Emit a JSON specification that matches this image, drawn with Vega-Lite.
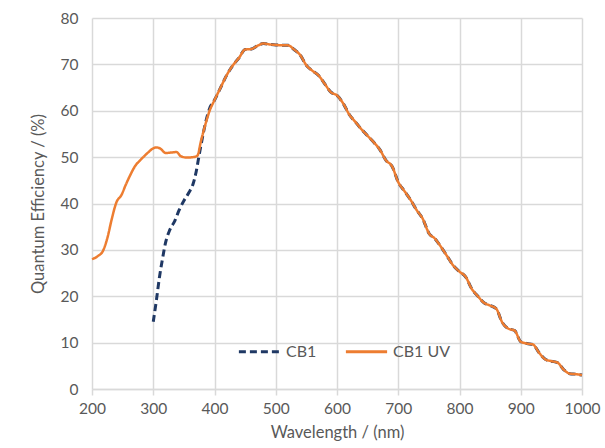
{
  "$schema": "https://vega.github.io/schema/vega-lite/v6.json",
  "width": 490,
  "height": 371,
  "autosize": "none",
  "padding": {"left": 92, "top": 18, "right": 23, "bottom": 59},
  "background": "white",
  "config": {
    "view": {"stroke": null},
    "font": "Lato",
    "axis": {"labelFont": "Lato", "titleFont": "Lato", "labelColor": "#595959", "titleColor": "#595959", "labelFontSize": 15.5, "titleFontSize": 16.5, "titleFontWeight": "normal", "gridColor": "#d9d9d9", "gridWidth": 1.5},
    "legend": {"labelFont": "Lato", "labelFontSize": 16, "labelColor": "#595959"}
  },
  "datasets": {
    "uv": [
      {"w":200,"q":28.0},{"w":210,"q":28.7},{"w":218,"q":29.8},{"w":225,"q":32.5},{"w":232,"q":36.5},{"w":240,"q":40.3},{"w":248,"q":41.8},{"w":255,"q":44.0},{"w":262,"q":46.0},{"w":270,"q":48.0},{"w":280,"q":49.5},{"w":290,"q":50.8},{"w":300,"q":51.9},{"w":305,"q":52.1},{"w":312,"q":51.8},{"w":320,"q":50.9},{"w":330,"q":51.0},{"w":338,"q":51.1},{"w":345,"q":50.2},{"w":355,"q":49.9},{"w":365,"q":50.0},{"w":372,"q":50.3},{"w":378,"q":53.5},{"w":385,"q":57.0},{"w":392,"q":60.0},
      {"w":400,"q":62.3},{"w":410,"q":65.0},{"w":420,"q":67.7},{"w":430,"q":69.8},{"w":440,"q":71.4},{"w":450,"q":73.2},{"w":460,"q":73.3},{"w":470,"q":74.0},{"w":480,"q":74.5},{"w":490,"q":74.3},{"w":500,"q":74.2},{"w":510,"q":74.1},{"w":520,"q":74.1},{"w":530,"q":73.2},{"w":540,"q":72.0},{"w":550,"q":69.8},{"w":560,"q":68.6},{"w":570,"q":67.6},{"w":580,"q":65.8},{"w":590,"q":64.0},{"w":600,"q":63.3},{"w":610,"q":61.6},{"w":620,"q":59.2},{"w":630,"q":57.6},{"w":640,"q":56.0},{"w":650,"q":54.6},{"w":660,"q":53.2},{"w":670,"q":51.6},{"w":680,"q":49.3},{"w":690,"q":48.0},{"w":700,"q":44.6},{"w":710,"q":42.7},{"w":720,"q":40.8},{"w":730,"q":38.6},{"w":740,"q":36.7},{"w":750,"q":33.6},{"w":760,"q":32.4},{"w":770,"q":30.6},{"w":780,"q":28.6},{"w":790,"q":26.6},{"w":800,"q":25.3},{"w":810,"q":24.2},{"w":820,"q":21.6},{"w":830,"q":20.0},{"w":840,"q":18.6},{"w":850,"q":18.0},{"w":860,"q":17.3},{"w":870,"q":14.3},{"w":880,"q":13.0},{"w":890,"q":12.6},{"w":900,"q":10.2},{"w":910,"q":9.8},{"w":920,"q":9.6},{"w":930,"q":7.8},{"w":940,"q":6.4},{"w":950,"q":6.0},{"w":960,"q":5.7},{"w":970,"q":4.2},{"w":980,"q":3.3},{"w":990,"q":3.2},{"w":1000,"q":3.0}
    ],
    "cb1": [
      {"w":300,"q":14.5},{"w":305,"q":19.0},{"w":310,"q":24.0},{"w":315,"q":28.0},{"w":320,"q":31.5},{"w":327,"q":34.3},{"w":335,"q":36.2},{"w":342,"q":38.5},{"w":350,"q":40.6},{"w":358,"q":42.3},{"w":365,"q":44.2},{"w":370,"q":46.8},{"w":375,"q":50.5},{"w":380,"q":54.0},{"w":385,"q":57.2},{"w":392,"q":60.5},
      {"w":400,"q":62.3},{"w":410,"q":65.0},{"w":420,"q":67.7},{"w":430,"q":69.8},{"w":440,"q":71.4},{"w":450,"q":73.2},{"w":460,"q":73.3},{"w":470,"q":74.0},{"w":480,"q":74.5},{"w":490,"q":74.3},{"w":500,"q":74.2},{"w":510,"q":74.1},{"w":520,"q":74.1},{"w":530,"q":73.2},{"w":540,"q":72.0},{"w":550,"q":69.8},{"w":560,"q":68.6},{"w":570,"q":67.6},{"w":580,"q":65.8},{"w":590,"q":64.0},{"w":600,"q":63.3},{"w":610,"q":61.6},{"w":620,"q":59.2},{"w":630,"q":57.6},{"w":640,"q":56.0},{"w":650,"q":54.6},{"w":660,"q":53.2},{"w":670,"q":51.6},{"w":680,"q":49.3},{"w":690,"q":48.0},{"w":700,"q":44.6},{"w":710,"q":42.7},{"w":720,"q":40.8},{"w":730,"q":38.6},{"w":740,"q":36.7},{"w":750,"q":33.6},{"w":760,"q":32.4},{"w":770,"q":30.6},{"w":780,"q":28.6},{"w":790,"q":26.6},{"w":800,"q":25.3},{"w":810,"q":24.2},{"w":820,"q":21.6},{"w":830,"q":20.0},{"w":840,"q":18.6},{"w":850,"q":18.0},{"w":860,"q":17.3},{"w":870,"q":14.3},{"w":880,"q":13.0},{"w":890,"q":12.6},{"w":900,"q":10.2},{"w":910,"q":9.8},{"w":920,"q":9.6},{"w":930,"q":7.8},{"w":940,"q":6.4},{"w":950,"q":6.0},{"w":960,"q":5.7},{"w":970,"q":4.2},{"w":980,"q":3.3},{"w":990,"q":3.2},{"w":1000,"q":3.0}
    ]
  },
  "layer": [
    {
      "data": {"name": "cb1"},
      "transform": [{"calculate": "'CB1'", "as": "s"}],
      "mark": {"type": "line", "strokeWidth": 3, "interpolate": "monotone"},
      "encoding": {
        "x": {"field": "w", "type": "quantitative", "scale": {"domain": [200, 1000], "nice": false},
          "axis": {"title": "Wavelength / (nm)", "format": "d", "values": [200,225,250,275,300,325,350,375,400,425,450,475,500,525,550,575,600,625,650,675,700,725,750,775,800,825,850,875,900,925,950,975,1000],
            "labelExpr": "datum.value % 100 === 0 ? datum.label : ''",
            "gridOpacity": {"condition": {"test": "datum.value % 100 === 0", "value": 1}, "value": 0},
            "tickSize": {"condition": {"test": "datum.value % 100 === 0", "value": 6}, "value": 4},
            "tickColor": "#d9d9d9", "tickWidth": 1.5, "domainColor": "#d9d9d9", "domainWidth": 1.5, "labelPadding": 6, "titlePadding": 8, "labelFlush": false, "labelOverlap": false}},
        "y": {"field": "q", "type": "quantitative", "scale": {"domain": [0, 80], "nice": false},
          "axis": {"title": "Quantum Efficiency / (%)", "values": [0,10,20,30,40,50,60,70,80], "ticks": false, "domain": false, "labelPadding": 14, "titlePadding": 14}},
        "color": {"field": "s", "type": "nominal", "scale": {"domain": ["CB1", "CB1 UV"], "range": ["#1F3864", "#ED7D31"]},
          "legend": {"title": null, "orient": "none", "legendX": 145, "legendY": 311, "direction": "horizontal", "symbolType": "stroke", "symbolSize": 1700, "symbolStrokeWidth": 3, "columnPadding": 22}},
        "strokeDash": {"field": "s", "type": "nominal", "scale": {"domain": ["CB1", "CB1 UV"], "range": [[7, 4], [1, 0]]},
          "legend": {"title": null, "orient": "none", "legendX": 145, "legendY": 311, "direction": "horizontal", "symbolType": "stroke", "symbolSize": 1700, "symbolStrokeWidth": 3, "columnPadding": 22}}
      }
    },
    {
      "data": {"name": "uv"},
      "transform": [{"calculate": "'CB1 UV'", "as": "s"}],
      "mark": {"type": "line", "strokeWidth": 2.5, "interpolate": "monotone"},
      "encoding": {
        "x": {"field": "w", "type": "quantitative"},
        "y": {"field": "q", "type": "quantitative"},
        "color": {"field": "s", "type": "nominal"},
        "strokeDash": {"field": "s", "type": "nominal"}
      }
    }
  ]
}
